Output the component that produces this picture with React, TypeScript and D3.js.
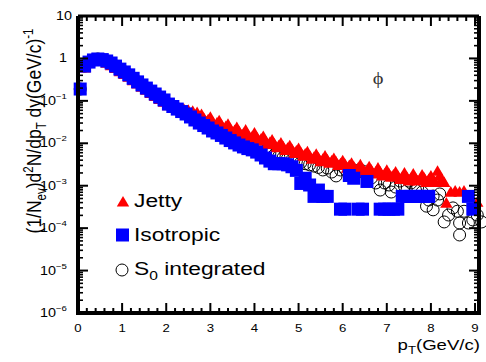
import React from "react";
import * as d3 from "d3";

// ---------- data ----------
// Isotropic: bin centres 0.05 ... 9.05 GeV/c
const isoPt: number[] = d3.range(91).map((i) => +(0.05 + 0.1 * i).toFixed(2));
const isotropic: (number | null)[] = [
  0.19, 0.66, 0.82, 0.92, 0.97, 0.94, 0.87, 0.78, 0.66, 0.56,
  0.48, 0.41, 0.34, 0.28, 0.237, 0.2, 0.17, 0.145, 0.123, 0.105,
  0.084, 0.0736, 0.064, 0.056, 0.049, 0.0417, 0.0354, 0.03, 0.0262, 0.0229,
  0.0195, 0.0175, 0.0153, 0.0133, 0.0116, 0.0102, 0.0091, 0.0082, 0.0075, 0.007,
  0.0062, 0.0053, 0.0045, 0.0038, 0.0033, 0.0033, 0.0033, 0.0031, 0.0028, 0.0023,
  0.00113, 0.0015, 0.00104, 0.00056, 0.00079, 0.00056, 0.00056, null, null, 0.00028,
  0.00028, 0.00174, 0.0015, 0.00028, 0.00028, 0.00126, null, null, 0.00028, 0.00028,
  0.00028, 0.00028, 0.00028, 0.00056, 0.00056, 0.00056, 0.00056, 0.00056, 0.00056, 0.00056,
  null, null, null, null, null, null, null, null, 0.00056, 0.00028,
  null,
];

// Jetty: coarse bins to 2.15, fine (0.05) bins 2.20 ... 8.30, then sparse tail
const jettyPt: number[] = [
  ...d3.range(22).map((i) => +(0.05 + 0.1 * i).toFixed(2)),
  ...d3.range(123).map((i) => +(2.2 + 0.05 * i).toFixed(2)),
  8.35, 8.45, 8.55, 8.65, 8.75, 9.05,
];
const jetty: number[] = [
  0.19, 0.6, 0.78, 0.88, 0.92, 0.87, 0.77, 0.68, 0.58, 0.49,
  0.42, 0.36, 0.3, 0.25, 0.21, 0.178, 0.15, 0.128, 0.108, 0.093,
  0.077, 0.068,
  0.07, 0.062, 0.066, 0.058, 0.063, 0.054, 0.06, 0.05, 0.057, 0.047,
  0.053, 0.043, 0.048, 0.039, 0.032, 0.036, 0.041, 0.032, 0.027, 0.03,
  0.034, 0.027, 0.022, 0.025, 0.028, 0.022, 0.018, 0.02, 0.0235, 0.019,
  0.0155, 0.017, 0.0205, 0.016, 0.013, 0.0145, 0.0175, 0.0138, 0.0113, 0.0126,
  0.0145, 0.0115, 0.0094, 0.0105, 0.012, 0.0096, 0.0079, 0.0088, 0.0101, 0.0083,
  0.0068, 0.0076, 0.0088, 0.0071, 0.0058, 0.0066, 0.0075, 0.006, 0.005, 0.0056,
  0.0063, 0.0051, 0.0042, 0.0047, 0.0055, 0.0045, 0.0037, 0.0042, 0.005, 0.0041,
  0.0034, 0.0038, 0.0044, 0.0036, 0.003, 0.0033, 0.0039, 0.0032, 0.0026, 0.003,
  0.0034, 0.0028, 0.0023, 0.0026, 0.0031, 0.0025, 0.0021, 0.0023, 0.0028, 0.0023,
  0.0019, 0.0021, 0.0026, 0.0021, 0.0017, 0.0019, 0.0023, 0.0019, 0.0016, 0.0018,
  0.0021, 0.0017, 0.0014, 0.0016, 0.002, 0.0016, 0.0013, 0.0015, 0.0019, 0.0015,
  0.0013, 0.0014, 0.0018, 0.0015, 0.0012, 0.0014, 0.0017, 0.0014, 0.0012, 0.0022,
  0.0017, 0.0014, 0.0012,
  0.00039, 0.00071, 0.00075, 0.00071, 0.00075, 0.00041,
];

const s0Pt: number[] = [
  0.05, 0.15, 0.25, 0.35, 0.45, 0.55, 0.65, 0.75, 0.85, 0.95,
  1.05, 1.15, 1.25, 1.35, 1.45, 1.55, 1.65, 1.75, 1.85, 1.95,
  2.05, 2.15, 2.25, 2.35, 2.45, 2.55, 2.65, 2.75, 2.85, 2.95,
  3.05, 3.15, 3.25, 3.35, 3.45, 3.55, 3.65, 3.75, 3.85, 3.95,
  4.05, 4.15, 4.25, 4.35, 4.45, 4.55, 4.65, 4.75, 4.85, 4.95,
  5.05, 5.15, 5.25, 5.35, 5.45, 5.55, 5.65, 5.75, 5.85, 5.95,
  6.05, 6.15, 6.25, 6.35, 6.45, 6.55, 6.65, 6.75, 6.85, 6.95,
  7.05, 7.1, 7.2, 7.3, 7.4, 7.5, 7.55, 7.65, 7.7, 7.8,
  7.9, 7.95, 8.05, 8.05, 8.15, 8.2, 8.3, 8.4, 8.5, 8.6,
  8.65, 8.65, 8.75, 8.85, 8.95, 9.05, 9.15,
];
const s0Integrated: number[] = [
  0.19, 0.66, 0.82, 0.92, 0.97, 0.94, 0.87, 0.78, 0.66, 0.56,
  0.48, 0.41, 0.34, 0.28, 0.237, 0.2, 0.17, 0.145, 0.123, 0.105,
  0.084, 0.0736, 0.0643, 0.058, 0.052, 0.046, 0.04, 0.0345, 0.031, 0.0275,
  0.024, 0.0215, 0.019, 0.017, 0.015, 0.0134, 0.012, 0.0108, 0.0099, 0.0092,
  0.0084, 0.0075, 0.0066, 0.0059, 0.0053, 0.0049, 0.0046, 0.0044, 0.0041, 0.0038,
  0.0035, 0.0033, 0.0031, 0.0029, 0.0027, 0.00235, 0.0026, 0.0021, 0.0017, 0.00235,
  0.00248, 0.00222, 0.00235, 0.0021, 0.00222, 0.0019, 0.00152, 0.00116, 0.00079, 0.00116,
  0.00104, 0.00071, 0.00093, 0.00129, 0.00098, 0.00129, 0.00116, 0.00079, 0.00093, 0.00071,
  0.00033, 0.00046, 0.00057, 0.00027, 0.00046, 0.00064, 0.00014, 0.000204, 0.0003, 0.00025,
  0.000132, 0.000069, 0.00025, 0.000132, 0.000156, 0.000204, 0.00014,
];

const xTickLabels = ["0", "1", "2", "3", "4", "5", "6", "7", "8", "9"];
const yDecades = [-6, -5, -4, -3, -2, -1, 0, 1];
const legendItems = ["Jetty", "Isotropic", "S0 integrated"];

// ---------- layout ----------
const W = 486;
const H = 362;
const L = 78, R = 479, T = 16, B = 313;
const FONT = "'Liberation Sans', Arial, Helvetica, sans-serif";
const SX = 1.2; // horizontal stretch of the original picture

const x = d3.scaleLinear().domain([0, 9.09]).range([L, R]);
const y = d3.scaleLog().domain([1e-6, 10]).range([B, T]);

const tri = (cx: number, cy: number) =>
  `M${cx},${cy - 6}L${cx + 6.2},${cy + 4.6}L${cx - 6.2},${cy + 4.6}Z`;

function StretchText({ x: tx, y: ty, anchor = "start", size, children }: any) {
  return (
    <g transform={`translate(${tx},${ty}) scale(${SX},1)`}>
      <text x={0} y={0} textAnchor={anchor} fontSize={size} fontFamily={FONT} fill="#000">
        {children}
      </text>
    </g>
  );
}

export default function App() {
  const jettyPts = jettyPt.map((p, i) => ({ p, v: jetty[i] }));
  const isoPts = isoPt
    .map((p, i) => ({ p, v: isotropic[i] }))
    .filter((d) => d.v != null) as { p: number; v: number }[];
  const s0Pts = s0Pt.map((p, i) => ({ p, v: s0Integrated[i] }));

  // ticks
  const xMajor = d3.range(0, 10);
  const xMinor = d3.range(0, 9.09, 0.2).filter((v) => Math.abs(v - Math.round(v)) > 1e-6);
  const yMajor = yDecades.map((d) => Math.pow(10, d));
  const yMinor: number[] = [];
  yDecades.slice(0, -1).forEach((d) => {
    for (let k = 2; k <= 9; k++) yMinor.push(k * Math.pow(10, d));
  });

  return (
    <svg width={W} height={H} style={{ position: "absolute", left: 0, top: 0, background: "#fff" }}>
      <rect x={0} y={0} width={W} height={H} fill="#fff" />
      {/* data: S0 first, then Jetty, then Isotropic */}
      <g>
        {s0Pts.map((d, i) => (
          <circle key={"c" + i} cx={x(d.p)} cy={y(d.v)} r={6} fill="none" stroke="#000" strokeWidth={1} />
        ))}
        {jettyPts.map((d, i) => (
          <path key={"t" + i} d={tri(x(d.p), y(d.v))} fill="#ff0000" />
        ))}
        {isoPts.map((d, i) => (
          <rect key={"s" + i} x={x(d.p) - 6.5} y={y(d.v) - 6.5} width={13} height={13} fill="#0000ff" />
        ))}
      </g>

      {/* frame */}
      <g stroke="#000" fill="none">
        <line x1={L} x2={L} y1={T} y2={B} strokeWidth={4} />
        <line x1={L - 2} x2={R + 2} y1={B} y2={B} strokeWidth={4} />
        <line x1={L} x2={R} y1={T} y2={T} strokeWidth={3} />
        <line x1={R} x2={R} y1={T} y2={B} strokeWidth={4} />
        {xMajor.map((v) => (
          <g key={"xM" + v}>
            <line x1={x(v)} x2={x(v)} y1={B} y2={B - 10} strokeWidth={2} />
            <line x1={x(v)} x2={x(v)} y1={T} y2={T + 10} strokeWidth={2} />
          </g>
        ))}
        {xMinor.map((v, i) => (
          <g key={"xm" + i}>
            <line x1={x(v)} x2={x(v)} y1={B} y2={B - 5} strokeWidth={2} />
            <line x1={x(v)} x2={x(v)} y1={T} y2={T + 5} strokeWidth={2} />
          </g>
        ))}
        {yMajor.map((v, i) => (
          <g key={"yM" + i}>
            <line x1={L} x2={L + 10} y1={y(v)} y2={y(v)} strokeWidth={2} />
            <line x1={R} x2={R - 10} y1={y(v)} y2={y(v)} strokeWidth={2} />
          </g>
        ))}
        {yMinor.map((v, i) => (
          <g key={"ym" + i}>
            <line x1={L} x2={L + 5} y1={y(v)} y2={y(v)} strokeWidth={1.6} />
            <line x1={R} x2={R - 5} y1={y(v)} y2={y(v)} strokeWidth={1.6} />
          </g>
        ))}
      </g>

      {/* x tick labels */}
      {xMajor.map((v, i) => (
        <StretchText key={"xl" + v} x={x(v)} y={332} anchor="middle" size={11}>
          {xTickLabels[i]}
        </StretchText>
      ))}

      {/* y tick labels */}
      {yDecades.map((d) => {
        const yy = y(Math.pow(10, d)) + 4;
        if (d === 1)
          return (
            <StretchText key={"yl" + d} x={72} y={yy} anchor="end" size={12}>
              10
            </StretchText>
          );
        if (d === 0)
          return (
            <StretchText key={"yl" + d} x={67} y={yy} anchor="end" size={12}>
              1
            </StretchText>
          );
        return (
          <g key={"yl" + d} transform={`translate(56,${yy}) scale(${SX},1)`}>
            <text x={0} y={0} textAnchor="end" fontSize={12} fontFamily={FONT}>10</text>
            <text x={0} y={-6} textAnchor="start" fontSize={8} fontFamily={FONT}>{`\u2212${-d}`}</text>
          </g>
        );
      })}

      {/* axis titles */}
      <g transform={`translate(480,350) scale(${SX},1)`}>
        <text x={0} y={0} textAnchor="end" fontSize={15.5} fontFamily={FONT}>
          p<tspan fontSize={11} dy={4}>T</tspan>
          <tspan dy={-4}>(GeV/c)</tspan>
        </text>
      </g>
      <g transform={`translate(41,131) scale(${SX},1) rotate(-90)`}>
        <text x={0} y={0} textAnchor="middle" fontSize={17.5} fontFamily={FONT}>
          (1/N<tspan fontSize={11.5} dy={4}>ev</tspan>
          <tspan dy={-4}>)d</tspan>
          <tspan fontSize={11.5} dy={-7}>2</tspan>
          <tspan dy={7}>N/dp</tspan>
          <tspan fontSize={11.5} dy={4}>T</tspan>
          <tspan dy={-4}> dy(GeV/c)</tspan>
          <tspan fontSize={11.5} dy={-7}>-1</tspan>
        </text>
      </g>

      {/* phi label */}
      <g transform={`translate(378,84) scale(${SX},1)`}>
        <text x={0} y={0} textAnchor="middle" fontSize={17} fill="#333" fontFamily="'Liberation Serif', 'DejaVu Serif', serif">ϕ</text>
      </g>

      {/* legend */}
      <path d={tri(123, 202)} fill="#ff0000" />
      <StretchText x={134} y={207} size={19}>{legendItems[0]}</StretchText>
      <rect x={116} y={228.5} width={13} height={13} fill="#0000ff" />
      <StretchText x={134} y={241} size={19}>{legendItems[1]}</StretchText>
      <circle cx={122} cy={270} r={6} fill="none" stroke="#000" strokeWidth={1} />
      <g transform={`translate(134,275) scale(${SX},1)`}>
        <text x={0} y={0} fontSize={19} fontFamily={FONT}>
          S<tspan fontSize={13} dy={5}>0</tspan>
          <tspan dy={-5}> integrated</tspan>
        </text>
      </g>
    </svg>
  );
}
